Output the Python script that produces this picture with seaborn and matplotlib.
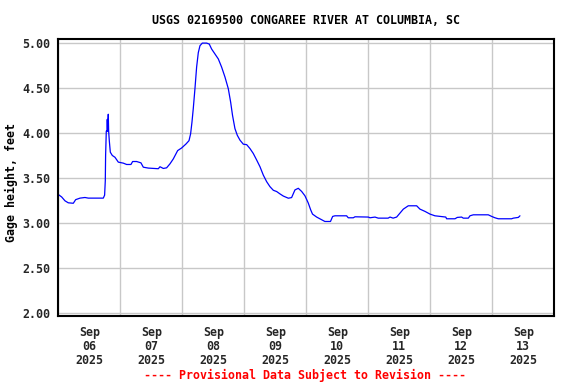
import numpy as np
import pandas as pd
import matplotlib
matplotlib.use("Agg")
import matplotlib.pyplot as plt
import matplotlib.dates as mdates
import seaborn as sns

# ---- data (days since 2025-09-06 00:00, gage height in feet) ----
day_offset = [
    0.000, 0.054, 0.108, 0.161, 0.242, 0.280, 0.350, 0.430, 0.484, 0.726,
    0.747, 0.758, 0.763, 0.774, 0.785, 0.790, 0.796, 0.806, 0.812, 0.823,
    0.839, 0.871, 0.914, 0.968, 1.048, 1.102, 1.172, 1.199, 1.263, 1.333,
    1.371, 1.452, 1.613, 1.640, 1.694, 1.747, 1.801, 1.855, 1.925, 1.989,
    2.059, 2.108, 2.134, 2.156, 2.177, 2.204, 2.231, 2.258, 2.285, 2.323,
    2.392, 2.435, 2.473, 2.527, 2.581, 2.634, 2.688, 2.742, 2.780, 2.810,
    2.849, 2.887, 2.930, 2.984, 3.038, 3.091, 3.145, 3.199, 3.253, 3.306,
    3.360, 3.414, 3.468, 3.522, 3.575, 3.629, 3.710, 3.763, 3.817, 3.871,
    3.925, 3.978, 4.032, 4.070, 4.100, 4.167, 4.247, 4.300, 4.390, 4.425,
    4.462, 4.650, 4.677, 4.758, 4.785, 5.000, 5.027, 5.108, 5.160, 5.320,
    5.350, 5.400, 5.457, 5.510, 5.565, 5.645, 5.780, 5.833, 5.914, 5.995,
    6.075, 6.156, 6.250, 6.263, 6.398, 6.435, 6.505, 6.532, 6.613, 6.640,
    6.694, 6.935, 6.990, 7.043, 7.097, 7.312, 7.339, 7.420, 7.446,
]
gage_height = [
    3.317, 3.290, 3.247, 3.225, 3.220, 3.260, 3.277, 3.284, 3.277, 3.277,
    3.310, 3.470, 3.750, 4.020, 4.020, 4.150, 4.020, 4.207, 4.020, 3.910,
    3.786, 3.750, 3.730, 3.676, 3.665, 3.650, 3.650, 3.683, 3.683, 3.668,
    3.620, 3.610, 3.603, 3.625, 3.606, 3.613, 3.657, 3.712, 3.804, 3.833,
    3.877, 3.914, 3.990, 4.120, 4.270, 4.490, 4.730, 4.890, 4.967, 4.996,
    4.996, 4.985, 4.930, 4.875, 4.820, 4.730, 4.620, 4.490, 4.340, 4.195,
    4.048, 3.974, 3.920, 3.875, 3.870, 3.827, 3.772, 3.700, 3.625, 3.533,
    3.460, 3.404, 3.364, 3.350, 3.324, 3.300, 3.276, 3.283, 3.368, 3.386,
    3.351, 3.303, 3.222, 3.148, 3.100, 3.067, 3.037, 3.018, 3.018, 3.074,
    3.081, 3.081, 3.059, 3.059, 3.070, 3.067, 3.059, 3.067, 3.055, 3.055,
    3.067, 3.055, 3.067, 3.110, 3.155, 3.192, 3.192, 3.155, 3.130, 3.100,
    3.081, 3.074, 3.067, 3.048, 3.048, 3.063, 3.067, 3.055, 3.055, 3.081,
    3.092, 3.092, 3.074, 3.059, 3.048, 3.048, 3.055, 3.063, 3.081,
]
y_ticks = [2.00, 2.50, 3.00, 3.50, 4.00, 4.50, 5.00]
start_date = "2025-09-06"
end_date = "2025-09-14"
title_text = "USGS 02169500 CONGAREE RIVER AT COLUMBIA, SC"
y_label = "Gage height, feet"
footer_text = "---- Provisional Data Subject to Revision ----"

sns.set_theme(style="white")
plt.rcParams["font.family"] = ["DejaVu Sans Mono"]
plt.rcParams["font.weight"] = "bold"

t0 = pd.Timestamp(start_date)
df = pd.DataFrame({
    "time": [t0 + pd.Timedelta(days=d) for d in day_offset],
    "height": gage_height,
})

fig = plt.figure(figsize=(5.76, 3.84), dpi=100)
ax = fig.add_axes([58.3 / 576, 1 - 316 / 384, (554.3 - 58.3) / 576, (316 - 39.3) / 384])

sns.lineplot(data=df, x="time", y="height", ax=ax, color="#0000FF", linewidth=0.9)

ax.set_xlim(pd.Timestamp(start_date), pd.Timestamp(end_date))
ax.set_ylim(1.97, 5.038)

ax.set_yticks(y_ticks)
ax.set_yticklabels([f"{v:.2f}" for v in y_ticks])

ax.xaxis.set_major_locator(mdates.DayLocator())
ax.xaxis.set_major_formatter(plt.NullFormatter())
ax.xaxis.set_minor_locator(mdates.HourLocator(byhour=[12]))
ax.xaxis.set_minor_formatter(mdates.DateFormatter("%b\n%d\n%Y"))

ax.grid(True, which="major", axis="both", color="#C8C8C8", linewidth=1.0)
ax.set_axisbelow(True)

ax.tick_params(axis="both", which="both", length=0)
ax.tick_params(axis="y", pad=6, labelsize=8.4)
ax.tick_params(axis="x", which="minor", pad=7, labelsize=8.4)
for lbl in ax.xaxis.get_minorticklabels():
    lbl.set_linespacing(1.1)
    lbl.set_fontweight("bold")
for lbl in ax.get_yticklabels():
    lbl.set_fontweight("bold")

for sp in ax.spines.values():
    sp.set_color("black")
    sp.set_linewidth(1.5)
    sp.set_visible(True)

ax.set_xlabel("")
ax.set_ylabel("")

fig.text(306 / 576, 1 - 21 / 384, title_text, ha="center", va="center",
         fontsize=8.4, fontweight="bold", color="black")
fig.text(11.7 / 576, 1 - 183 / 384, y_label, ha="center", va="center",
         rotation=90, fontsize=8.4, fontweight="bold", color="black")
fig.text(305 / 576, 1 - 375 / 384, footer_text, ha="center", va="center",
         fontsize=8.4, fontweight="bold", color="#FF0000")

fig.savefig("out.png", dpi=100, facecolor="white")
